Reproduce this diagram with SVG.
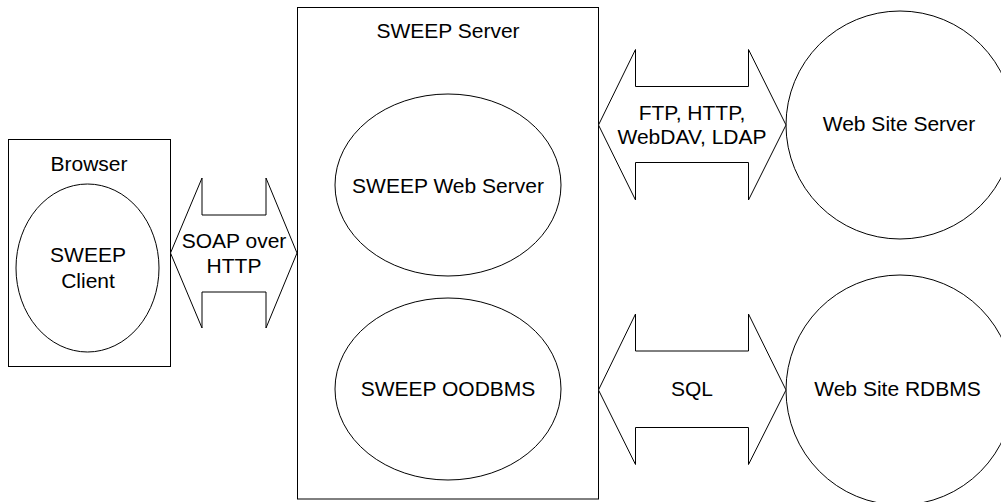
<svg xmlns="http://www.w3.org/2000/svg" width="1001" height="502" viewBox="0 0 1001 502">
<style>
.s{fill:#fff;stroke:#000;stroke-width:1}
.t{font-family:"Liberation Sans",Arial,sans-serif;font-size:21px;fill:#000;text-anchor:middle}
</style>
<rect width="1001" height="502" fill="#fff"/>
<g id="browser">
<rect class="s" x="8.5" y="139.5" width="162" height="227"/>
<text class="t" x="89" y="170.5">Browser</text>
</g>
<g id="sweep-client">
<ellipse class="s" cx="87.5" cy="268" rx="71.5" ry="84"/>
<text class="t" x="88" y="261.5">SWEEP</text>
<text class="t" x="88" y="287.5">Client</text>
</g>
<g id="sweep-server">
<rect class="s" x="297.5" y="7.5" width="301" height="491.5"/>
<text class="t" x="448" y="37.5">SWEEP Server</text>
</g>
<g id="sweep-web-server">
<ellipse class="s" cx="448" cy="185" rx="113" ry="91"/>
<text class="t" x="448" y="192.5">SWEEP Web Server</text>
</g>
<g id="sweep-oodbms">
<ellipse class="s" cx="448" cy="389" rx="113" ry="91"/>
<text class="t" x="448" y="396">SWEEP OODBMS</text>
</g>
<g id="web-site-server">
<ellipse class="s" cx="900" cy="125" rx="114" ry="114"/>
<text class="t" x="899" y="130.5">Web Site Server</text>
</g>
<g id="web-site-rdbms">
<ellipse class="s" cx="900" cy="390" rx="114" ry="115"/>
<text class="t" x="897.5" y="396">Web Site RDBMS</text>
</g>
<g id="connectors">
<polygon class="s" points="170.5,253 202,178 202,215 266,215 266,178 297,253 266,328 266,292 202,292 202,328"/>
<text class="t" x="234" y="247.5">SOAP over</text>
<text class="t" x="234" y="273">HTTP</text>
<polygon class="s" points="598.5,125 635.5,49.5 635.5,86.5 748.5,86.5 748.5,49.5 786,125 748.5,200 748.5,162.5 635.5,162.5 635.5,200"/>
<text class="t" x="692" y="120">FTP, HTTP,</text>
<text class="t" x="692" y="143.5">WebDAV, LDAP</text>
<polygon class="s" points="598.5,390 635.5,314 635.5,351 748.5,351 748.5,314 786,390 748.5,464.5 748.5,427.5 635.5,427.5 635.5,464.5"/>
<text class="t" x="692" y="396">SQL</text>
</g>
</svg>
